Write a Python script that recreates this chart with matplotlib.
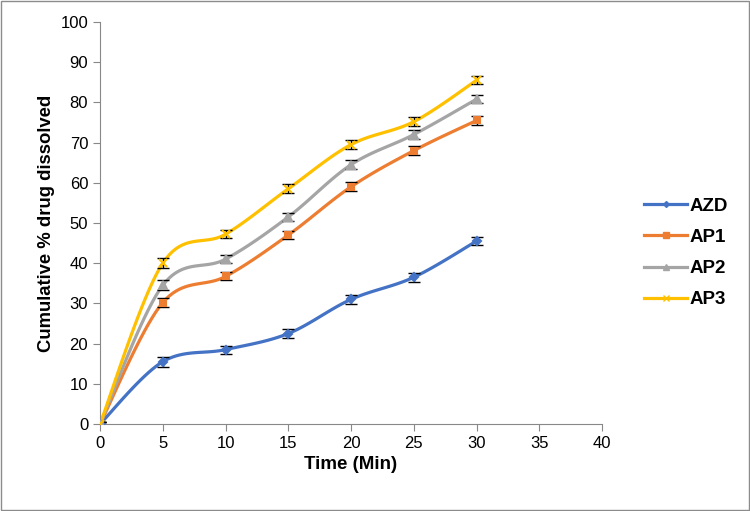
import numpy as np
import matplotlib.pyplot as plt

plt.rcParams['font.family'] = ['Liberation Sans', 'DejaVu Sans']

# data
time = [0, 5, 10, 15, 20, 25, 30]
azd = [0, 15.5, 18.5, 22.5, 31.0, 36.5, 45.5]
ap1 = [0, 30.2, 36.7, 47.0, 59.0, 68.0, 75.5]
ap2 = [0, 34.5, 41.0, 51.5, 64.5, 72.0, 80.8]
ap3 = [0, 40.0, 47.2, 58.5, 69.5, 75.2, 85.5]
err = [0.6, 1.2, 1.0, 1.1, 1.1, 1.1, 1.0]

series = [
    ('AZD', azd, '#4472C4', 'D', 4),
    ('AP1', ap1, '#ED7D31', 's', 5),
    ('AP2', ap2, '#A5A5A5', '^', 6),
    ('AP3', ap3, '#FFC000', 'x', 6),
]


def smooth(x, y, k=20):
    """Bezier smoothing like Excel's smoothed line."""
    x = np.asarray(x, float)
    y = np.asarray(y, float)
    px = np.concatenate([[x[0]], x, [x[-1]]])
    py = np.concatenate([[y[0]], y, [y[-1]]])
    xs, ys = [], []
    t = np.linspace(0, 1, k)
    for i in range(1, len(px) - 2):
        p0 = np.array([px[i], py[i]])
        p3 = np.array([px[i + 1], py[i + 1]])
        c1 = p0 + (p3 - np.array([px[i - 1], py[i - 1]])) / 6
        c2 = p3 - (np.array([px[i + 2], py[i + 2]]) - p0) / 6
        b = ((1 - t) ** 3)[:, None] * p0 + (3 * (1 - t) ** 2 * t)[:, None] * c1 \
            + (3 * (1 - t) * t ** 2)[:, None] * c2 + (t ** 3)[:, None] * p3
        xs.extend(b[:, 0])
        ys.extend(b[:, 1])
    return xs, ys


fig = plt.figure(figsize=(7.5, 5.11), dpi=100)
ax = fig.add_axes([100 / 750, 1 - 424 / 511, 502 / 750, 402 / 511])

for name, vals, col, mk, ms in series:
    sx, sy = smooth(time, vals)
    ax.plot(sx, sy, color=col, lw=2.3, zorder=2)
    ax.errorbar(time, vals, yerr=err, fmt='none', ecolor='black', elinewidth=1,
                capsize=4.5, capthick=1, zorder=3)
    ax.plot(time, vals, linestyle='none', marker=mk, ms=ms, color=col,
            mec=col, mew=1.5, zorder=4)
    ax.plot([], [], color=col, lw=2.3, marker=mk, ms=ms - 1, mec=col, label=name)

ax.set_xlim(0, 40)
ax.set_ylim(0, 100)
ax.set_xticks(np.arange(0, 41, 5))
ax.set_yticks(np.arange(0, 101, 10))
ax.tick_params(labelsize=12, color='#888888', length=5)
for s in ['top', 'right']:
    ax.spines[s].set_visible(False)
for s in ['left', 'bottom']:
    ax.spines[s].set_color('#888888')
ax.set_xlabel('Time (Min)', fontsize=13.5, fontweight='bold')
ax.set_ylabel('Cumulative % drug dissolved', fontsize=13.3, fontweight='bold')

leg = fig.legend(loc='center left', bbox_to_anchor=(644 / 750, 1 - 253 / 511),
                 frameon=False, prop={'size': 13.5, 'weight': 'bold'},
                 labelspacing=0.75, handlelength=2.3, handletextpad=0.15,
                 borderpad=0, borderaxespad=0)

fig.patches.append(plt.Rectangle((0.001, 0.001), 0.997, 0.997, transform=fig.transFigure,
                                 fill=False, edgecolor='#8c8c8c', lw=1))

fig.savefig('out.png', dpi=100)
